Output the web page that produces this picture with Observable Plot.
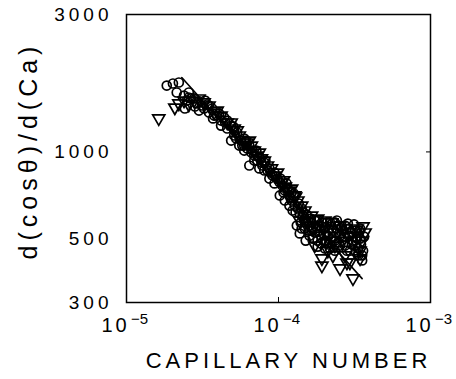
<!DOCTYPE html>
<html><head><meta charset="utf-8">
<script src="https://cdn.jsdelivr.net/npm/d3@7"></script>
<script src="https://cdn.jsdelivr.net/npm/@observablehq/plot@0.6"></script>
<style>
body{margin:0;background:#fff}
svg{display:block;overflow:visible}
</style>
</head><body><div id="chart"></div>
<script>
// Capillary number values are in units of 1e-5
const circleCa = [1.84,2.02,2.21,2.14,2.39,2.57,2.50,2.78,2.91,3.14,3.29,3.49,3.66,3.95,4.19,4.39,4.60,4.88,5.11,5.35,5.69,5.95,6.23,6.43,6.73,6.93,7.26,7.48,7.83,8.07,8.46,8.71,9.13,9.41,9.85,10.2,10.6,11.0,11.5,11.8,12.2,12.8,12.4,13.4,13.8,14.4,14.9,13.2,13.8,15.6,16.5,17.3,18.1,18.7,19.3,20.2,21.1,21.8,22.8,23.5,24.6,25.4,26.5,27.4,28.6,29.5,30.9,31.9,33.4,34.4,35.5,35.5,32.4,6.43,5.95,5.52,8.71,9.41,4.88,4.19,3.49,3.00,2.57,2.42,12.2,14.9,16.0,17.3,20.2,21.8,23.5,25.4,27.4,29.5,31.9,34.4,18.1,16.5,14.0,15.1,11.0,10.2,11.8,8.07,6.93,7.48,5.95,5.11,4.60,3.77,3.24,
  5.78,6.14,6.63,7.15,7.72,8.20,8.85,9.55,10.3,10.8,11.3,12.0,12.6,12.96,13.6,14.2,14.6,15.3,5.04,5.27,4.46,4.07,3.71,3.39,2.82,2.65,
  14.2,15.1,15.8,16.3,16.8,17.6,18.4,19.0,19.9,20.8,21.4,22.4,23.1,24.2,25.0,26.1,26.9,28.2,29.1,30.4,31.4,32.9,33.9,34.9,36.0,36.6,33.4,23.5,20.2,18.1];
const circleVal = [1700,1728,1742,1608,1569,1545,1508,1533,1473,1449,1508,1370,1415,1337,1285,1317,1206,1234,1140,1168,1095,1113,1027,1052,1011,971,933,956,897,918,862,876,828,848,808,783,764,734,746,706,678,651,626,636,611,601,587,555,521,578,569,578,555,533,569,542,512,569,533,492,555,512,533,473,564,512,492,533,462,500,437,420,448,897,1011,1052,808,777,1095,1234,1449,1392,1608,1415,723,542,512,525,492,462,569,473,555,454,473,542,492,533,569,492,678,706,651,862,933,876,1052,1186,1285,1337,1415,
  1052,1095,995,1011,918,933,848,822,808,723,777,690,717,616,662,636,616,606,1225,1113,1265,1360,1307,1461,1438,1533,
  542,569,533,587,500,551,578,481,517,569,477,542,508,578,485,551,508,454,542,477,560,500,533,477,454,508,437,454,462,469];
const triCa = [1.63,2.21,2.08,2.39,2.78,3.00,3.24,3.49,3.77,4.19,4.60,5.11,5.52,6.23,6.93,7.72,8.46,9.41,10.5,11.8,13.4,14.9,16.5,18.1,20.2,22.4,25.4,27.4,30.5,33.4,35.5,37.1,16.0,18.7,21.8,23.5,19.3,19.3,25.4,30.9,27.4,29.5,21.1,17.3,13.8,34.4,5.35,6.43,11.1,12.8,7.48,
  14.9,16.8,19.6,21.1,24.6,26.5,28.6,31.9,32.9,36.0,34.4,20.5,28.2,22.8,
  5.95,6.63,7.26,8.07,8.99,9.85,10.8,12.2,12.96,14.2,4.88,3.95,2.57];
const triVal = [1307,1473,1426,1508,1508,1533,1485,1449,1370,1337,1265,1206,1140,1078,1011,949,897,828,783,734,678,626,601,587,578,569,555,542,525,512,492,525,555,512,492,473,427,403,394,364,437,413,454,473,578,454,1187,1095,758,706,995,
  569,542,551,525,525,492,508,492,542,551,427,485,413,437,
  1078,1052,971,933,876,848,796,746,700,651,1265,1392,1461];
const fitCa = [2.31, 35.5];
const fitVal = [1812, 363];
const xTicks = [1e-5, 1e-4, 1e-3];
const xExponents = ["\u22125", "\u22124", "\u22123"];
const yTicks = [300, 500, 1000, 3000];
const xTitle = "CAPILLARY NUMBER";
const yTitle = "d(cos\u03B8)/d(Ca)";

const circles = circleCa.map((c, i) => ({x: c * 1e-5, y: circleVal[i]}));
const tris = triCa.map((c, i) => ({x: c * 1e-5, y: triVal[i]}));
const fit = fitCa.map((c, i) => ({x: c * 1e-5, y: fitVal[i]}));

const font = "'Liberation Sans', Arial, Helvetica, sans-serif";
const chart = Plot.plot({
  width: 456, height: 379,
  marginLeft: 126, marginRight: 26, marginTop: 14, marginBottom: 77,
  style: {fontFamily: font, background: "#fff", color: "#000", overflow: "visible"},
  x: {type: "log", domain: [1e-5, 1e-3]},
  y: {type: "log", domain: [300, 3000]},
  marks: [
    Plot.frame({stroke: "#000", strokeWidth: 1.5}),
    Plot.text(yTicks, {y: d => d, frameAnchor: "left", textAnchor: "end", text: d => String(d), dx: -14, fontSize: 19}),
    Plot.axisY([1000], {anchor: "right", tickSize: 5, dx: -5, tickFormat: () => "", label: null}),
    Plot.axisX([1e-4], {anchor: "bottom", tickSize: 5, dy: -5, tickFormat: () => "", label: null}),
    Plot.text(xTicks, {x: d => d, frameAnchor: "bottom", text: () => "10", dx: -11, dy: 29, fontSize: 20}),
    Plot.text(xTicks, {x: d => d, frameAnchor: "bottom", text: (d, i) => xExponents[i], dx: 13, dy: 21, fontSize: 15}),
    Plot.text([xTitle], {frameAnchor: "bottom", text: d => d, dx: 10, dy: 65, fontSize: 22}),
    Plot.text([yTitle], {frameAnchor: "left", textAnchor: "middle", text: d => d, dx: -98, dy: -8, rotate: -90, fontSize: 25}),
    Plot.line(fit, {x: "x", y: "y", stroke: "#000", strokeWidth: 1.6}),
    Plot.dot(circles, {x: "x", y: "y", r: 4.5, stroke: "#000", strokeWidth: 1.7, fill: "none"}),
    Plot.dot(tris, {x: "x", y: "y", r: 4.5, symbol: "triangle", rotate: 180, stroke: "#000", strokeWidth: 1.7, fill: "none"})
  ]
});
// letter spacing to match the widely spaced lettering of the original
const spacing = new Map([[xTitle, "4px"], [yTitle, "5px"], ["10", "3px"]]);
yTicks.forEach(t => spacing.set(String(t), "4px"));
d3.select(chart).selectAll("text").each(function() {
  const s = spacing.get(this.textContent);
  if (s) this.style.letterSpacing = s;
});
document.getElementById("chart").append(chart);
</script>
</body></html>
